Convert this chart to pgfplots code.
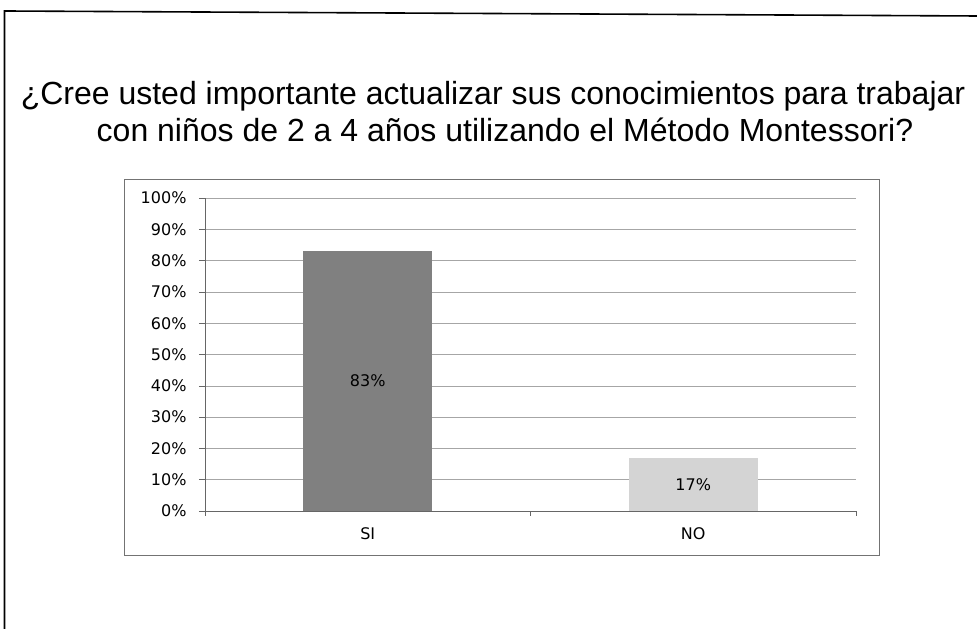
\documentclass[border=0pt]{standalone}
\usepackage{pgfplots}
\pgfplotsset{compat=1.18}
\usepackage{fontspec}
\setmainfont{Liberation Sans}
\newfontfamily\tickfont{DejaVu Sans}
\definecolor{barSI}{gray}{0.50}
\definecolor{barNO}{gray}{0.83}
\begin{document}
\begin{tikzpicture}[x=1pt,y=1pt]
\useasboundingbox (0,0) rectangle (977,629);
% outer frame
\draw[line width=1.6pt] (4.5,0) -- (4.5,618) -- (977,613);
% chart box
\draw[black!55, line width=0.8pt] (124,74) rectangle (879,450);
% title
\node[anchor=base, font=\fontsize{32}{37}\selectfont] at (493,524) {¿Cree usted importante actualizar sus conocimientos para trabajar};
\node[anchor=base, font=\fontsize{32}{37}\selectfont] at (505,487) {con niños de 2 a 4 años utilizando el Método Montessori?};
\begin{axis}[
  at={(205pt,118pt)}, anchor=south west,
  scale only axis, width=651pt, height=313pt,
  xmin=-0.5, xmax=1.5, ymin=0, ymax=100,
  axis x line*=bottom, axis y line*=left,
  axis line style={black!60, line width=0.6pt, -},
  ytick={0,10,...,100},
  yticklabel={\pgfmathprintnumber{\tick}\%},
  /pgf/number format/assume math mode=true,
  tick label style={font=\tickfont\fontsize{16}{19}\selectfont},
  y tick label style={xshift=-9pt},
  ymajorgrids, grid style={black!35, line width=0.5pt},
  tick align=outside, major tick length=6pt,
  y tick style={black!60, line width=0.5pt},
  xtick={0,1}, xticklabels={SI,NO},
  x tick style={draw=none},
  x tick label style={yshift=-7pt},
  extra x ticks={-0.5,0.5,1.5}, extra x tick labels={},
  extra x tick style={x tick style={draw=black!60, line width=0.5pt}, major tick length=5pt, grid=none},
  ybar, bar width=129pt, bar shift=0pt,
  nodes near coords={\pgfmathprintnumber{\pgfplotspointmeta}\%},
  point meta=y,
  visualization depends on=y \as \rawy,
  every node near coord/.append style={anchor=center, font=\tickfont\fontsize{16}{19}\selectfont,
     shift={(axis direction cs:0,-\rawy/2)}},
]
\addplot[fill=barSI, draw=none] coordinates {(0,83)};
\addplot[fill=barNO, draw=none] coordinates {(1,17)};
\end{axis}
\end{tikzpicture}
\end{document}
